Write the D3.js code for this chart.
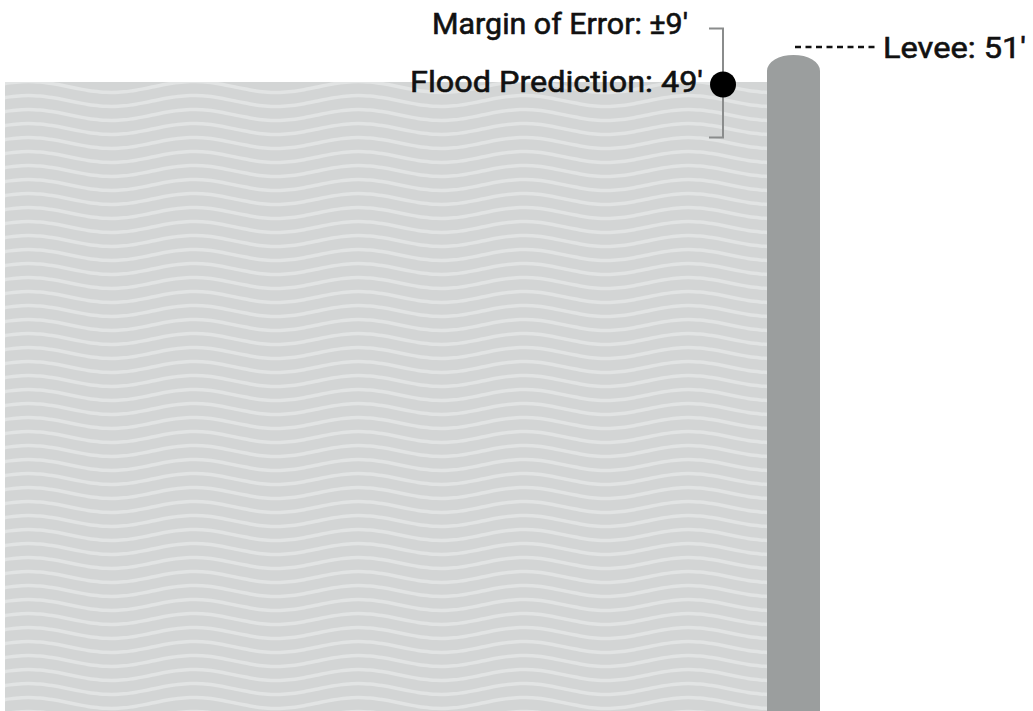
<!DOCTYPE html>
<html>
<head>
<meta charset="utf-8">
<script src="https://cdn.jsdelivr.net/npm/d3@7"></script>
<style>
  body { margin: 0; background: #fff; }
  svg { display: block; }
  text { font-family: Roboto, "Noto Sans", sans-serif; font-weight: 400; fill: #111; stroke: #111; stroke-width: 0.6px; }
</style>
</head>
<body>
<svg id="chart"></svg>
<script>
// values (feet)
const floodPrediction = [49];
const marginOfError = [9];
const leveeHeight = [51];
const labels = ["Flood Prediction: 49'", "Margin of Error: \u00b19'", "Levee: 51'"];

let w = 1033;
let h = 711;

let svg = d3.select('#chart')
  .attr('width', w)
  .attr('height', h);

// feet -> pixels
let y = d3.scaleLinear()
  .domain([40, 58])
  .range([137.5, 28.5]);

let waterLeft = 5;
let leveeX = d3.scaleLinear().domain([0, 1]).range([767, 820]);

let flood = floodPrediction[0];
let moe = marginOfError[0];
let levee = leveeHeight[0];

// water
let waterTop = y(flood) - 1;
svg.append('defs').append('clipPath').attr('id', 'waterclip')
  .append('rect')
  .attr('x', waterLeft).attr('y', waterTop)
  .attr('width', leveeX(0) - waterLeft).attr('height', h - waterTop);

svg.append('rect')
  .attr('x', waterLeft).attr('y', waterTop)
  .attr('width', leveeX(0) - waterLeft).attr('height', h - waterTop)
  .attr('fill', '#d3d5d5');

// wave lines
let period = 165, amp = 5.5, gap = 14;
let waveLine = d3.line().curve(d3.curveBasis);
let waves = svg.append('g').attr('clip-path', 'url(#waterclip)');
for (let yy = waterTop + 5; yy < h + gap; yy += gap) {
  let pts = d3.range(-20, leveeX(0) + 20, 6).map(x => [x, yy + amp * Math.sin((x - 70) / period * 2 * Math.PI)]);
  waves.append('path')
    .attr('d', waveLine(pts))
    .attr('fill', 'none')
    .attr('stroke', '#e2e4e4')
    .attr('stroke-width', 3.5);
}

// levee (drawn a bit taller than scale, like the original graphic)
let leveeTop = y(levee) - 16;
let lw = leveeX(1) - leveeX(0);
let ry = 16;
svg.append('path')
  .attr('d', `M${leveeX(0)},${h} L${leveeX(0)},${leveeTop + ry}
    A${lw / 2},${ry} 0 0 1 ${leveeX(1)},${leveeTop + ry}
    L${leveeX(1)},${h} Z`)
  .attr('fill', '#9b9e9e');

// levee label + dashed leader
let leveeLineY = leveeTop - 8;
svg.append('line')
  .attr('x1', 795).attr('x2', 877)
  .attr('y1', leveeLineY).attr('y2', leveeLineY)
  .attr('stroke', '#111')
  .attr('stroke-width', 2.5)
  .attr('stroke-dasharray', '6,4.5');

svg.append('text')
  .attr('x', 883).attr('y', leveeLineY + 11)
  .attr('font-size', 30)
  .attr('textLength', 143).attr('lengthAdjust', 'spacingAndGlyphs')
  .text(labels[2]);

// margin of error bracket
let bx = 723;
svg.append('path')
  .attr('d', `M${bx - 14},${y(flood + moe)} H${bx} V${y(flood - moe)} H${bx - 14}`)
  .attr('fill', 'none')
  .attr('stroke', '#8a8c8c')
  .attr('stroke-width', 2);

// prediction dot
svg.append('circle')
  .attr('cx', bx).attr('cy', y(flood) + 1.5)
  .attr('r', 13)
  .attr('fill', '#000');

svg.append('text')
  .attr('x', 688).attr('y', y(flood + moe) + 5)
  .attr('text-anchor', 'end')
  .attr('font-size', 29)
  .attr('textLength', 256).attr('lengthAdjust', 'spacingAndGlyphs')
  .text(labels[1]);

svg.append('text')
  .attr('x', 703).attr('y', y(flood) + 9)
  .attr('text-anchor', 'end')
  .attr('font-size', 30)
  .attr('textLength', 293).attr('lengthAdjust', 'spacingAndGlyphs')
  .text(labels[0]);
</script>
</body>
</html>
